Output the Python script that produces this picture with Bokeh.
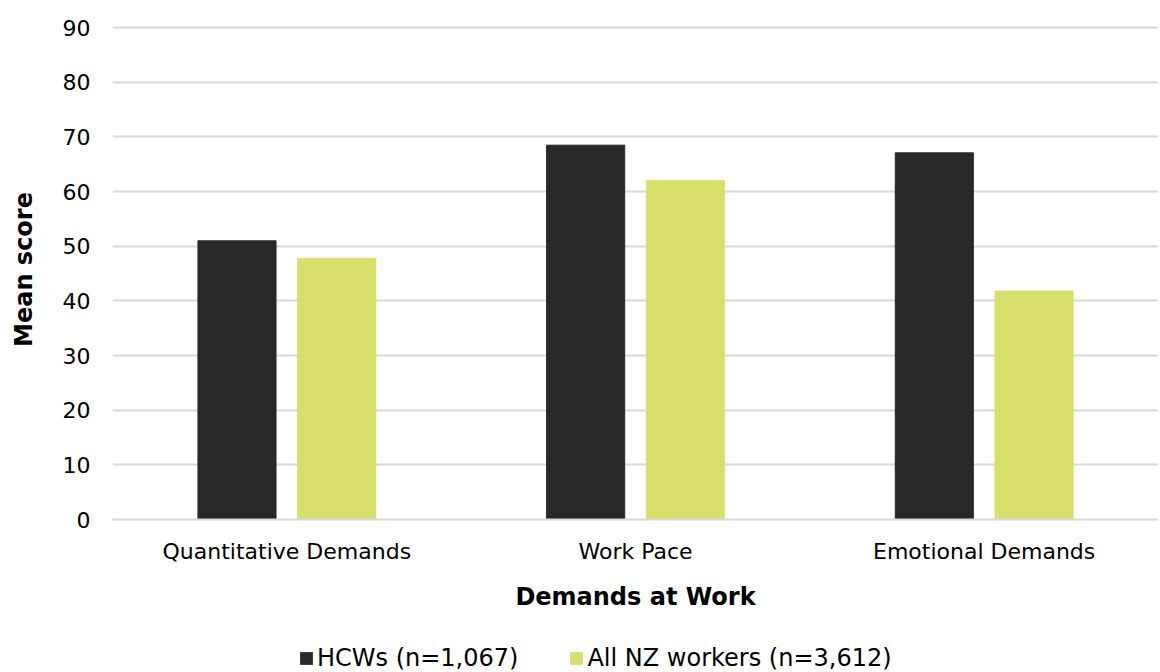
from bokeh.plotting import figure
from bokeh.models import FactorRange, Range1d, Legend, LegendItem, ColumnDataSource, FixedTicker
from bokeh.layouts import column
from bokeh.transform import dodge
from bokeh.embed import file_html
from bokeh.resources import INLINE

categories = ["Quantitative Demands", "Work Pace", "Emotional Demands"]
hcws = [51.0, 68.5, 67.1]
all_nz = [47.8, 62.0, 41.8]
series_labels = ["HCWs (n=1,067)", "All NZ workers (n=3,612)"]
series_colors = ["#282826", "#d8e06b"]
y_ticks = [0, 10, 20, 30, 40, 50, 60, 70, 80, 90]

FONT = "DejaVu Sans"
W = 1158
src = ColumnDataSource(dict(cat=categories, hcws=hcws, nz=all_nz))

p = figure(x_range=FactorRange(*categories), y_range=Range1d(0, 91.5),
           width=W, height=642, output_backend="svg", toolbar_location=None,
           min_border_top=19, min_border_left=112, min_border_right=0,
           min_border_bottom=123)

p.vbar(x=dodge("cat", -0.143, range=p.x_range), top="hcws", width=0.224, source=src,
       fill_color=series_colors[0], line_color=series_colors[0])
p.vbar(x=dodge("cat", 0.143, range=p.x_range), top="nz", width=0.224, source=src,
       fill_color=series_colors[1], line_color=series_colors[1])

p.outline_line_color = None
p.xgrid.grid_line_color = None
p.ygrid.grid_line_color = "#d9d9d9"
p.ygrid.grid_line_width = 2

p.yaxis.ticker = FixedTicker(ticks=y_ticks)
p.yaxis.axis_line_color = None
p.yaxis.major_tick_line_color = None
p.yaxis.minor_tick_line_color = None
p.yaxis.major_label_text_font = FONT
p.yaxis.major_label_text_font_size = "22px"
p.yaxis.major_label_text_color = "#000000"
p.yaxis.major_label_standoff = 16
p.yaxis.axis_label = "Mean score"
p.yaxis.axis_label_text_font = FONT
p.yaxis.axis_label_text_font_style = "bold"
p.yaxis.axis_label_text_font_size = "24px"
p.yaxis.axis_label_text_color = "#000000"
p.yaxis.axis_label_standoff = 22

p.xaxis.axis_line_color = "#d9d9d9"
p.xaxis.axis_line_width = 2
p.xaxis.major_tick_line_color = None
p.xaxis.minor_tick_line_color = None
p.xaxis.major_label_text_font = FONT
p.xaxis.major_label_text_font_size = "22px"
p.xaxis.major_label_text_color = "#000000"
p.xaxis.major_label_standoff = 13
p.xaxis.axis_label = "Demands at Work"
p.xaxis.axis_label_text_font = FONT
p.xaxis.axis_label_text_font_style = "bold"
p.xaxis.axis_label_text_font_size = "24px"
p.xaxis.axis_label_text_color = "#000000"
p.xaxis.axis_label_standoff = 16

# legend strip below the chart (its renderers are hidden; only the legend shows)
lg = figure(width=W, height=30, output_backend="svg", toolbar_location=None,
            x_range=FactorRange(*categories), y_range=Range1d(-2, -1), min_border=0)
lg.axis.visible = False
lg.grid.visible = False
lg.outline_line_color = None
d1 = lg.vbar(x="cat", top="hcws", width=0.2, source=src,
             fill_color=series_colors[0], line_color=None, visible=False)
d2 = lg.vbar(x="cat", top="nz", width=0.2, source=src,
             fill_color=series_colors[1], line_color=None, visible=False)
legend = Legend(items=[LegendItem(label=series_labels[0], renderers=[d1]),
                       LegendItem(label=series_labels[1], renderers=[d2])],
                orientation="horizontal", location=(186, 0),
                label_text_font=FONT, label_text_font_size="24px", label_text_color="#000000",
                glyph_width=16, glyph_height=16, spacing=50, label_standoff=3,
                inactive_fill_alpha=0,
                border_line_color=None, background_fill_alpha=0, padding=0, margin=0)
lg.add_layout(legend, "center")

layout = column(p, lg, spacing=0)
open("out.html", "w").write(file_html(layout, INLINE))
